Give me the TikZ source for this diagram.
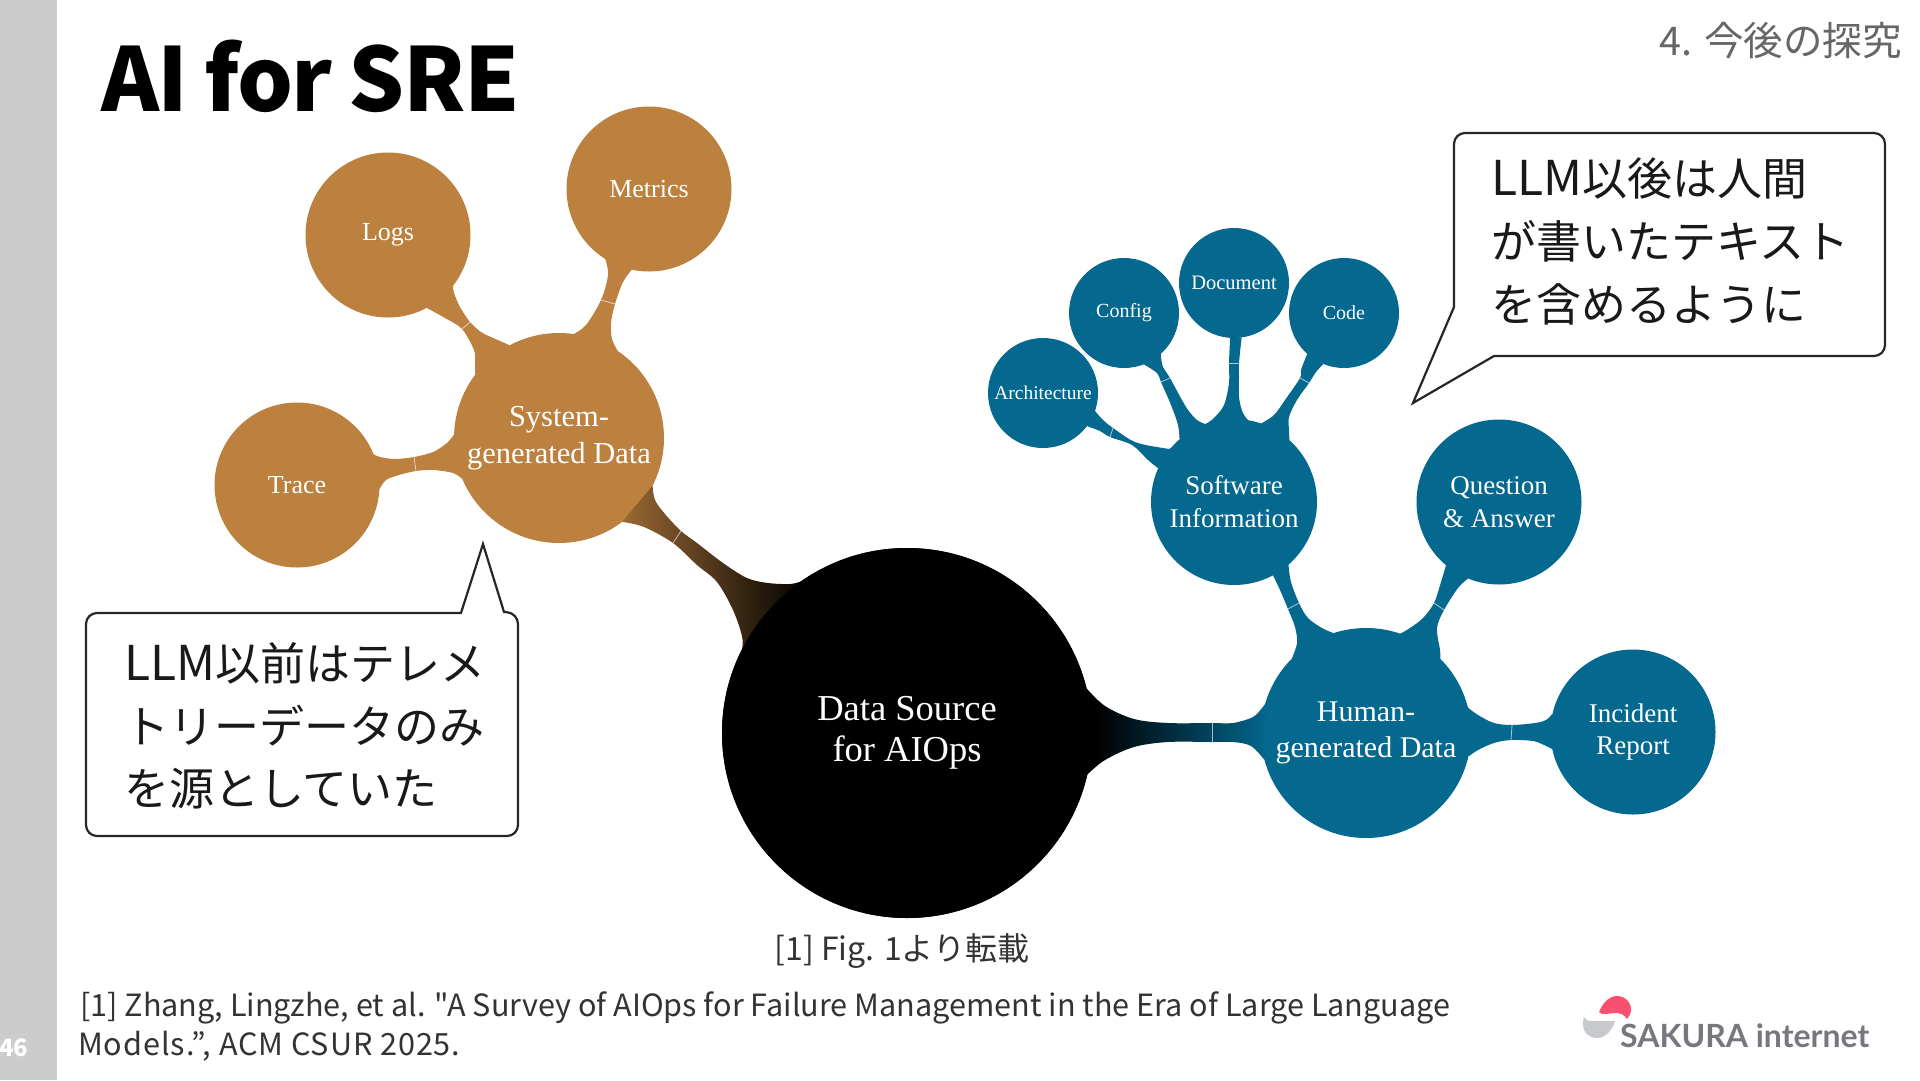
\documentclass[tikz,border=0pt]{standalone}
\usepackage{fontspec}
\setmainfont{Liberation Serif}
\newfontfamily\jp{Noto Sans CJK JP}
\newfontfamily\jpwide[LetterSpace=3]{Noto Sans CJK JP}
\newfontfamily\ttlfont[LetterSpace=-1.6,WordSpace=0.85]{Noto Sans CJK JP}
\newfontfamily\latofont{Lato}
\usetikzlibrary{calc}
\definecolor{sbrown}{HTML}{BC803F}
\definecolor{hteal}{HTML}{04688F}
\definecolor{sidegrey}{HTML}{CCCCCC}
\definecolor{headgrey}{HTML}{666666}
\definecolor{bodyink}{HTML}{333333}
\definecolor{logogrey}{HTML}{77777F}
\definecolor{logored}{HTML}{F8506E}
\definecolor{logolight}{HTML}{C8C9CC}
\pgfdeclarehorizontalshading{hgrad}{100bp}{color(0bp)=(black);color(28bp)=(black);color(75bp)=(hteal);color(100bp)=(hteal)}
\pgfdeclarehorizontalshading{sgrad}{100bp}{color(0bp)=(sbrown);color(33bp)=(sbrown);color(63bp)=(black);color(100bp)=(black)}
\newcommand{\fs}[1]{\fontsize{#1}{1.22\dimexpr #1pt\relax}\selectfont}
\newcommand{\blob}[3]{\fill[#1] plot[smooth,tension=.55] coordinates{#2} -- plot[smooth,tension=.55] coordinates{#3} -- cycle;}
\newcommand{\blobclip}[2]{\clip plot[smooth,tension=.55] coordinates{#1} -- plot[smooth,tension=.55] coordinates{#2} -- cycle;}
\tikzset{
  bubble/.style={circle,inner sep=0pt,outer sep=0pt,align=center,text=white,minimum size=#1},
  sysb/.style={bubble=#1,fill=sbrown},
  humb/.style={bubble=#1,fill=hteal},
  waist/.style={draw=white,draw opacity=.65,line width=.8pt},
  callout/.style={draw=black!85,fill=white,line width=2.2pt,line join=miter},
  calltext/.style={font=\jp\fs{45},anchor=base west,text=black!90,inner sep=0pt},
  reftext/.style={font=\jp\fs{30.6},anchor=base west,text=bodyink,inner sep=0pt},
}
\newcommand{\llm}{{\fontsize{48}{55}\selectfont LLM}}
\begin{document}
\begin{tikzpicture}[x=1pt,y=-1pt]
\useasboundingbox (0,0) rectangle (1920,1080);
\fill[white] (0,0) rectangle (1920,1080);
\fill[sidegrey] (0,0) rectangle (57,1080);
\node[anchor=center,text=white,font=\jp\bfseries\fs{24}] (pg) at (14,1048) {46};
\node[anchor=west,inner sep=0pt,font=\ttlfont\bfseries\fs{88}] (title) at (101,76) {AI for SRE};
\node[anchor=east,inner sep=0pt,text=headgrey,font=\jp\fs{39.5}] (head) at (1902,41) {4. 今後の探究};

% bubbles
\node[bubble=370pt,fill=black] (main) at (907,733) {};
\node[sysb=210pt,font=\fs{30.5}] (sys) at (559,438) {System-\\generated Data};
\node[sysb=165pt,font=\fs{26}] (logs) at (388,235) {\raisebox{-2pt}{Logs}};
\node[sysb=165pt,font=\fs{26}] (metrics) at (649,189) {\raisebox{-1pt}{Metrics}};
\node[sysb=165pt,font=\fs{26}] (trace) at (297,485) {Trace};
\node[humb=210pt,font=\fs{30}] (human) at (1366,733) {Human-\\generated Data};
\node[humb=165pt,font=\fs{27}] (incident) at (1633,732) {Incident\\Report};
\node[humb=165pt,font=\fs{27}] (question) at (1499,502) {Question\\\& Answer};
\node[humb=166pt,font=\fs{27}] (soft) at (1234,502) {Software\\Information};
\node[humb=110pt,font=\fs{20.5}] (doc) at (1234,283) {Document};
\node[humb=110pt,font=\fs{20}] (config) at (1124,313) {Config};
\node[humb=110pt,font=\fs{20}] (code) at (1344,313) {Code};
\node[humb=110pt,font=\fs{19.5}] (arch) at (1043,393) {Architecture};

% waists
\coordinate (w1a) at (462,329); \coordinate (w1b) at (470,322);
\coordinate (w2a) at (601,300); \coordinate (w2b) at (615,304);
\coordinate (w3a) at (414,457); \coordinate (w3b) at (416,471);
\coordinate (w4a) at (681,531); \coordinate (w4b) at (673,543);
\coordinate (w5a) at (1212,723); \coordinate (w5b) at (1212,742);
\coordinate (w6a) at (1512,725); \coordinate (w6b) at (1511,740);
\coordinate (w7a) at (1288,609); \coordinate (w7b) at (1299,603);
\coordinate (w8a) at (1434,603); \coordinate (w8b) at (1444,610);
\coordinate (w9a) at (1229,363); \coordinate (w9b) at (1239,363);
\coordinate (w10a) at (1161,382); \coordinate (w10b) at (1170,378);
\coordinate (w11a) at (1113,428); \coordinate (w11b) at (1110,437);
\coordinate (w12a) at (1300,378); \coordinate (w12b) at (1309,383);

% brown branches
\blob{sbrown}{(logs.-62) (445,318) (w1a) (474,350) (475,362) (sys.143)}{(sys.118) (491,337) (481,332) (w1b) (460,307) (454,293) (logs.-38)}
\blob{sbrown}{(metrics.-122) (608,275) (w2a) (586,325) (sys.82)}{(sys.56) (612,339) (611,323) (w2b) (623,282) (metrics.-102)}
\blob{sbrown}{(trace.22) (380,457) (395,459) (w3a) (433,452) (447,443) (sys.178)}{(sys.203) (453,473) (433,470) (w3b) (399,475) (386,480) (trace.-3)}
% gradient branches to the source
\begin{scope}
\blobclip{(sys.-27.5) (655,500) (665,514) (w4a) (697,543) (723,563) (747,578) (768,583) (790,584) (main.125.5)}{(main.153.9) (742,636) (733,610) (717,582) (697,565) (w4b) (644,527) (sys.-53)}
\shade[shading=sgrad,rotate around={-42:(710,555)}] (590,405) rectangle (830,705);
\end{scope}
\begin{scope}
\blobclip{(main.14.9) (1105,706) (1134,719) (1168,723) (w5a) (1233,723) (1253,717) (1262,708) (human.164.6)}{(human.195) (1251,746) (1233,742) (w5b) (1168,742) (1134,747) (1105,760) (main.-13.7)}
\shade[shading=hgrad] (1085,670) rectangle (1270,795);
\end{scope}
% source bubble repainted over the ends of its branches, then its text
\fill[black] (main.center) circle[radius=185];
\node[align=center,text=white,font=\fs{36.5}] (maintext) at (main.center) {Data Source\\[-4pt]for AIOps};
% teal branches
\blob{hteal}{(human.14) (1478,715) (1494,723) (w6a) (1535,723) (1546,720) (incident.167.6)}{(incident.192.5) (1544,745) (1533,741) (w6b) (1494,743) (1478,750) (human.-13)}
\blob{hteal}{(human.135) (1297,643) (1295,627) (w7a) (1280,590) (soft.-62)}{(soft.-49.7) (1291,582) (w7b) (1308,618) (1322,628) (human.108)}
\blob{hteal}{(human.71.6) (1410,628) (1423,618) (w8a) (1441,582) (question.-130.6)}{(question.-112) (1458,588) (w8b) (1437,628) (1440,650) (human.45)}
\blob{hteal}{(doc.-94) (w9a) (1229,383) (1224,405) (1214,418) (soft.110)}{(soft.76) (1251,423) (1243,413) (1239,397) (1239,377) (w9b) (doc.-82.6)}
\blob{hteal}{(config.-69) (1157,373) (w10a) (1171,405) (1178,425) (soft.131)}{(soft.110) (1197,420) (1186,407) (w10b) (1163,367) (1161,357) (config.-48.6)}
\blob{hteal}{(arch.-19.7) (1103,420) (w11a) (1135,442) (1163,448) (1172,448) (soft.131)}{(soft.156.6) (1148,460) (1132,445) (w11b) (1100,431) (arch.-37.9)}
\blob{hteal}{(code.-132) (1301,370) (w12a) (1285,400) (1274,415) (soft.71.8)}{(soft.48.4) (1289,430) (1289,417) (1297,400) (w12b) (1316,372) (code.-112.5)}
% waist hairlines
\foreach \k in {1,2,3,4,5,6,7,8,9,10,11,12} {\draw[waist] (w\k a) -- (w\k b);}

% callouts
\draw[callout] (461,613) -- (483,544) -- (504,612) [rounded corners=11pt] -- (518,613) -- (518,836) -- (86,836) -- (86,613) -- (300,613) [sharp corners] -- (461,613) -- cycle;
\node[calltext] (la) at (124,680) {\llm 以前はテレメ};
\node[calltext] (lb) at (124,743) {トリーデータのみ};
\node[calltext] (lc) at (124,805) {を源としていた};
\draw[callout] (1454,307) -- (1413,403) -- (1494,356) [rounded corners=11pt] -- (1885,356) -- (1885,133) -- (1454,133) -- (1454,220) [sharp corners] -- (1454,307) -- cycle;
\node[calltext] (ra) at (1491,195) {\llm 以後は人間};
\node[calltext] (rb) at (1491,258) {が書いたテキスト};
\node[calltext] (rc) at (1491,321) {を含めるように};

% caption and reference
\node[font=\jp\fs{32},anchor=base,text=bodyink,inner sep=0pt] (cap) at (902,960) {[1] Fig. 1より転載};
\node[reftext] (refa) at (80,1016) {[1] Zhang, Lingzhe, et al. "A Survey of AIOps for Failure Management in the Era of Large Language};
\node[reftext,font=\jpwide\fs{30.6}] (refb) at (78,1055) {Models.”, ACM CSUR 2025.};

% logo
\fill[logored] (1599,1012) .. controls (1603,1002) and (1610,996) .. (1617,996) .. controls (1626,996) and (1632,1004) .. (1631,1011) .. controls (1631,1014) and (1629,1016) .. (1627,1019) .. controls (1624,1014) and (1620,1013) .. (1615,1013) .. controls (1609,1013) and (1602,1016) .. cycle;
\fill[logolight] (1584,1017) .. controls (1585,1019) and (1587,1021) .. (1592,1021) -- (1615,1021) .. controls (1612,1031) and (1605,1038) .. (1597,1038) .. controls (1589,1038) and (1583,1032) .. (1583,1026) .. controls (1583,1023) and (1583,1020) .. cycle;
\node[font=\latofont\bfseries\fs{32},anchor=base west,text=logogrey,inner sep=0pt] (logotext) at (1620,1047) {SAKURA internet};
\end{tikzpicture}
\end{document}
